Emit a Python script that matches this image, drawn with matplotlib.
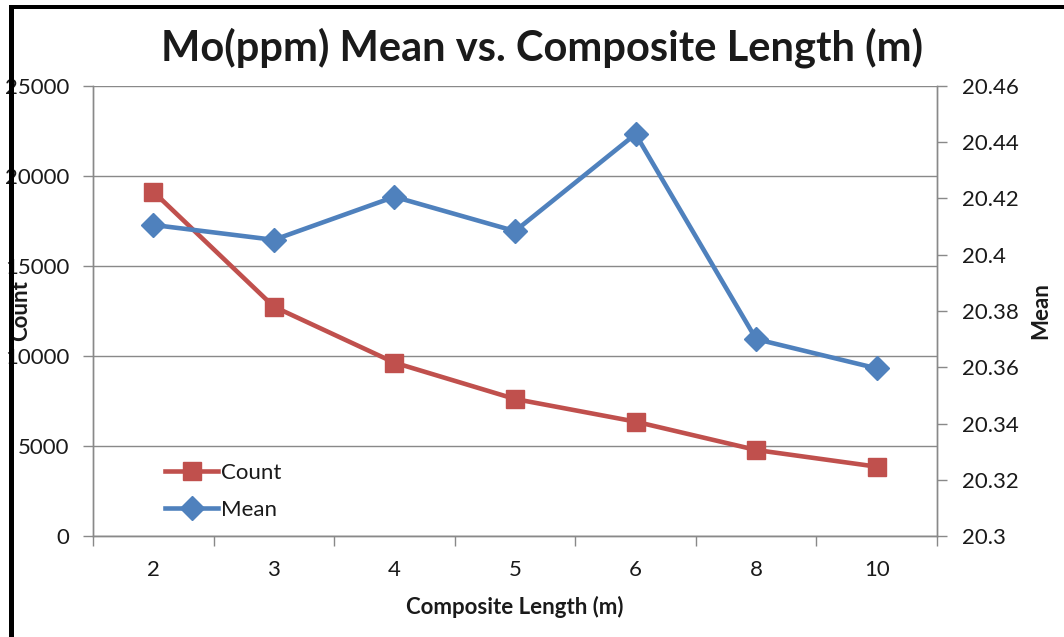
import matplotlib
matplotlib.use("Agg")
import matplotlib.pyplot as plt
from matplotlib.patches import Rectangle
import numpy as np

plt.rcParams['font.family'] = ['Lato', 'DejaVu Sans']

categories = ["2", "3", "4", "5", "6", "8", "10"]
count = [19130, 12740, 9630, 7611, 6352, 4778, 3852]
mean = [20.4106, 20.4053, 20.4206, 20.4084, 20.4429, 20.3700, 20.3596]
left_ticks = [0, 5000, 10000, 15000, 20000, 25000]
right_ticks = [20.3, 20.32, 20.34, 20.36, 20.38, 20.4, 20.42, 20.44, 20.46]
right_labels = ["20.3", "20.32", "20.34", "20.36", "20.38", "20.4", "20.42", "20.44", "20.46"]

RED = "#C0504D"
BLUE = "#4F81BD"
GRID = "#898989"
TXT = "#1a1a1a"

fig = plt.figure(figsize=(10.64, 6.37), dpi=100)
ax = fig.add_axes([93/1064, 1-536/637, (937-93)/1064, (536-86)/637])
ax2 = ax.twinx()

x = np.arange(len(categories))
ax.set_xlim(-0.5, len(categories) - 0.5)
ax.set_ylim(0, 25000)
ax2.set_ylim(20.3, 20.46)

ax.set_yticks(left_ticks)
ax.set_yticklabels([str(v) for v in left_ticks])
ax.grid(axis='y', color=GRID, linewidth=1.0)
ax.set_axisbelow(True)

ax.set_xticks(x)
ax.set_xticklabels(categories)
ax.set_xticks(np.arange(-0.5, len(categories), 1.0), minor=True)
ax.tick_params(axis='x', which='major', length=0, pad=17, labelsize=16, colors=TXT)
ax.tick_params(axis='x', which='minor', length=7, width=1, color=GRID, direction='out')
ax.tick_params(axis='y', length=7, width=1, color=GRID, pad=10, labelsize=16, colors=TXT)
ax2.set_yticks(right_ticks)
ax2.set_yticklabels(right_labels)
ax2.tick_params(axis='y', length=7, width=1, color=GRID, pad=11, labelsize=16, colors=TXT)

for a in (ax, ax2):
    a.spines['top'].set_visible(False)
    for s in ('left', 'right', 'bottom'):
        a.spines[s].set_color(GRID)
        a.spines[s].set_linewidth(1.0)

lc, = ax.plot(x, count, color=RED, linewidth=3.3, marker='s', markersize=13,
              label="Count", zorder=3)
lm, = ax2.plot(x, mean, color=BLUE, linewidth=3.3, marker='D', markersize=12,
               label="Mean", zorder=3)

ax.set_xlabel("Composite Length (m)", fontsize=16, fontweight='bold', labelpad=12, color=TXT)
ax.set_ylabel("Count", fontsize=16, fontweight='bold', color=TXT)
ax2.set_ylabel("Mean", fontsize=16, fontweight='bold', color=TXT)
ax.yaxis.set_label_coords((31-93)/844, 0.5)
ax2.yaxis.set_label_coords((1030-93)/844, 0.5)

fig.text(542/1064, 1-48/637, "Mo(ppm) Mean vs. Composite Length (m)",
         ha='center', va='center', fontsize=30, fontweight='bold', color=TXT)

leg = ax2.legend(handles=[lc, lm], loc='upper left',
                 bbox_to_anchor=((165-93)/844, (536-463)/450), frameon=False, fontsize=16,
                 handlelength=2.4, handletextpad=0.1, labelspacing=0.75, borderaxespad=0,
                 borderpad=0)
for t in leg.get_texts():
    t.set_color(TXT)

# frame edges along the top and left of the figure
fig.add_artist(Rectangle((9/1064, 0), 5/1064, 1-5/637, transform=fig.transFigure,
                         facecolor='black', edgecolor='none'))
fig.add_artist(Rectangle((9/1064, 1-9/637), 1, 4/637, transform=fig.transFigure,
                         facecolor='black', edgecolor='none'))

fig.savefig("out.png", dpi=100)
